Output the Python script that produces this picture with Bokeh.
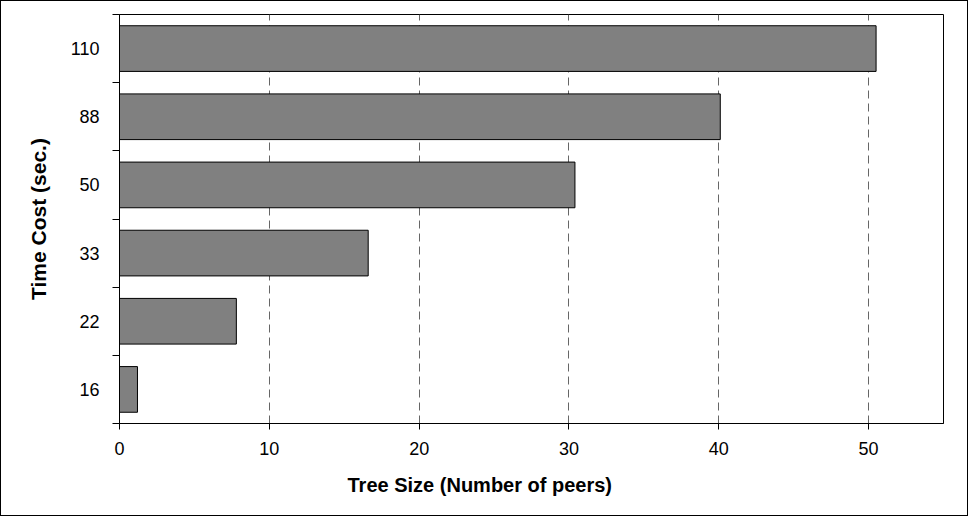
from bokeh.plotting import figure
from bokeh.models import FixedTicker, Range1d, Title
from bokeh.embed import file_html
from bokeh.resources import INLINE

# Time cost categories (seconds), bottom to top
categories = ["16", "22", "33", "50", "88", "110"]
# Tree size (number of peers) for each time cost
tree_sizes = [1.2, 7.8, 16.6, 30.4, 40.1, 50.5]
# Tick positions on the tree-size axis
x_ticks = [0, 10, 20, 30, 40, 50]

FONT = "Liberation Sans"

# Category centres and the boundaries between categories
y_centers = [i + 0.5 for i in range(len(categories))]
y_bounds = list(range(len(categories) + 1))

p = figure(
    frame_width=824, frame_height=409,
    x_range=Range1d(0, 55), y_range=Range1d(0, len(categories)),
    min_border_left=118, min_border_top=13,
    min_border_right=24, min_border_bottom=92,
    output_backend="svg", toolbar_location=None,
)
p.styles = {"border": "1px solid #000000"}

p.hbar(y=y_centers, left=0, right=tree_sizes, height=0.67,
       fill_color="#808080", line_color="#000000", line_width=1)

# Dashed vertical grid
p.xgrid.ticker = FixedTicker(ticks=x_ticks)
p.xgrid.grid_line_color = "#666666"
p.xgrid.grid_line_dash = "8 5"
p.xgrid.grid_line_width = 1
p.ygrid.visible = False

p.outline_line_color = "#000000"
p.outline_line_width = 1
p.outline_line_alpha = 1

# X axis
xa = p.xaxis[0]
xa.ticker = FixedTicker(ticks=x_ticks)
xa.axis_line_color = "#000000"
xa.major_tick_line_color = "#000000"
xa.major_tick_out = 6
xa.major_tick_in = 0
xa.minor_tick_line_color = None
xa.major_label_text_font = FONT
xa.major_label_text_font_size = "18px"
xa.major_label_text_color = "#000000"
xa.major_label_standoff = 12

# Y axis: labels at category centres, ticks between categories
ya = p.yaxis[0]
ya.ticker = FixedTicker(ticks=y_centers, minor_ticks=y_bounds)
ya.major_label_overrides = {c: lab for c, lab in zip(y_centers, categories)}
ya.axis_line_color = "#000000"
ya.major_tick_line_color = None
ya.minor_tick_line_color = "#000000"
ya.minor_tick_out = 7
ya.minor_tick_in = 0
ya.major_label_text_font = FONT
ya.major_label_text_font_size = "18px"
ya.major_label_text_color = "#000000"
ya.major_label_standoff = 13
ya.axis_label = "Time Cost (sec.)"
ya.axis_label_text_font = FONT
ya.axis_label_text_font_size = "21px"
ya.axis_label_text_font_style = "bold"
ya.axis_label_text_color = "#000000"
ya.axis_label_standoff = 18

# X axis title, set slightly left of centre
p.add_layout(Title(text="Tree Size (Number of peers)", align="left", offset=228,
                   text_font=FONT, text_font_size="20px", text_font_style="bold",
                   text_color="#000000", standoff=28), "below")

open("out.html", "w").write(file_html(p, INLINE))
